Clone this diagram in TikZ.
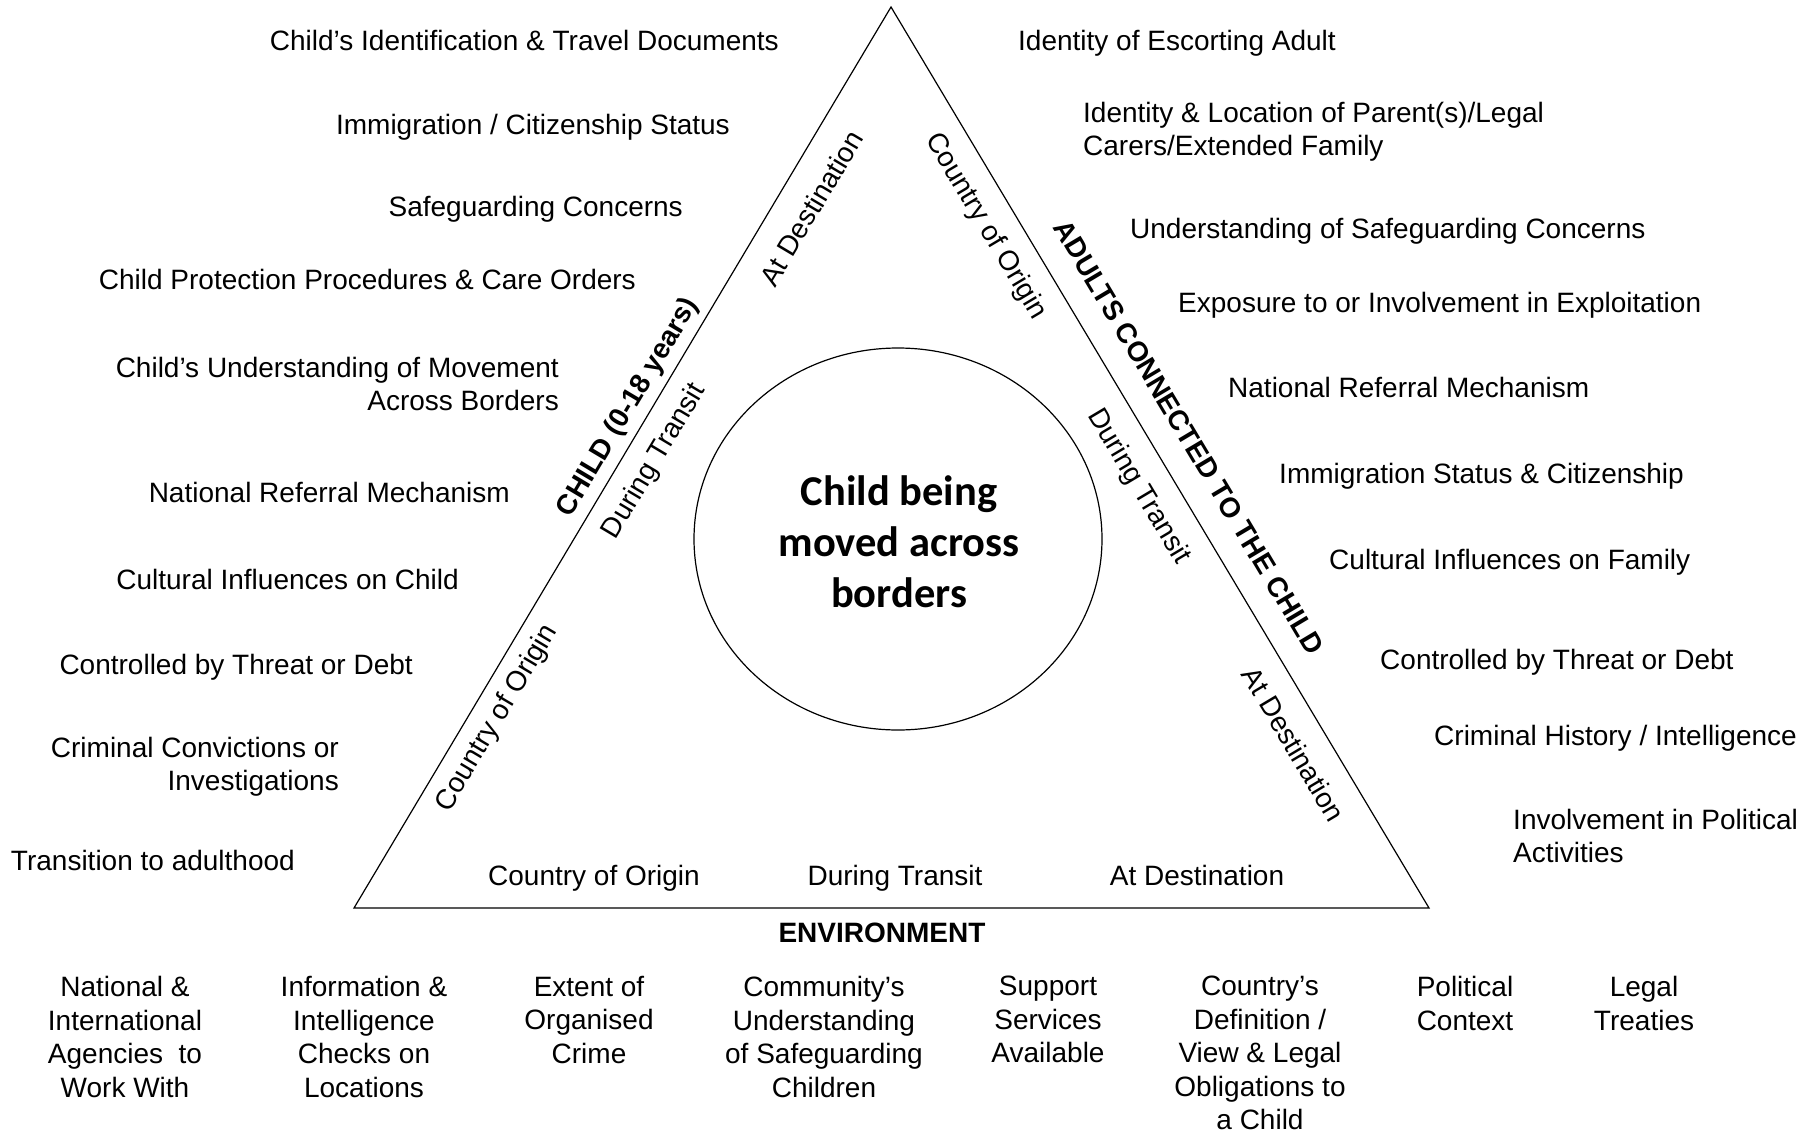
\documentclass[tikz,border=0pt]{standalone}
\usepackage{fontspec}
\setmainfont{Liberation Sans}
\newfontfamily\hubfont{Carlito}
\usetikzlibrary{shapes.geometric}

\tikzset{
  listtxt/.style={inner sep=0pt, text depth=0pt, font=\fontsize{28}{33.5}\selectfont},
  lefttxt/.style={listtxt, anchor=east, align=right},
  righttxt/.style={listtxt, anchor=west, align=left},
  envtxt/.style={listtxt, anchor=north, align=center},
  sidelbl/.style={listtxt},
  headlbl/.style={inner sep=0pt, text depth=0pt, font=\fontsize{28}{33.5}\selectfont\bfseries},
}

\begin{document}
\begin{tikzpicture}[x=1pt, y=-1pt]
            \useasboundingbox (0,0) rectangle (1812,1135);
            %\draw[red] (0,0) rectangle (1812,1135);
            \coordinate (apex) at (891,7);
            \coordinate (bl) at (354,908);
            \coordinate (br) at (1429,908);
            \draw[line width=1.2pt] (apex) -- (bl) -- (br) -- cycle;

            \node[draw, ellipse, line width=1.2pt, minimum width=408pt, minimum height=382pt, inner sep=0pt, align=center,
                  font=\hubfont\bfseries\fontsize{42.5}{51}\selectfont] (hub) at (898,539) {};
            \node[inner sep=0pt, align=center, font=\hubfont\bfseries\fontsize{42.5}{51}\selectfont] (hubtxt) at (899,542) {Child being\\moved across\\borders};

            % along the three sides
            \node[headlbl, rotate=59.2] (childhd) at (626,406) {CHILD (0-18 years)};
            \node[headlbl, rotate=-59.2] (adulthd) at (1189,437) {ADULTS CONNECTED TO THE CHILD};
            \node[headlbl] (envhd) at (882,933) {ENVIRONMENT};

            \node[sidelbl, rotate=59.2] (cdest) at (811,208) {At Destination};
            \node[sidelbl, rotate=59.2] (ctransit) at (652,460) {During Transit};
            \node[sidelbl, rotate=59.2] (corigin) at (495,717) {Country of Origin};
            \node[sidelbl, rotate=-59.2] (aorigin) at (988,225) {Country of Origin};
            \node[sidelbl, rotate=-59.2] (atransit) at (1141,485) {During Transit};
            \node[sidelbl, rotate=-59.2] (adest) at (1294,744) {At Destination};
            \node[sidelbl] (eorigin) at (594,875) {Country of Origin};
            \node[sidelbl] (etransit) at (895,875) {During Transit};
            \node[sidelbl] (edest) at (1197,875) {At Destination};

            % child
            \node[lefttxt] (c1) at (779,40) {Child’s Identification \& Travel Documents};
            \node[lefttxt] (c2) at (730,124) {Immigration / Citizenship Status};
            \node[lefttxt] (c3) at (683,206) {Safeguarding Concerns};
            \node[lefttxt] (c4) at (636,279) {Child Protection Procedures \& Care Orders};
            \node[lefttxt] (c5) at (559,384) {Child’s Understanding of Movement\\Across Borders};
            \node[lefttxt] (c6) at (510,492) {National Referral Mechanism};
            \node[lefttxt] (c7) at (459,579) {Cultural Influences on Child};
            \node[lefttxt] (c8) at (413,664) {Controlled by Threat or Debt};
            \node[lefttxt] (c9) at (339,764) {Criminal Convictions or\\Investigations};
            \node[lefttxt] (c10) at (295,860) {Transition to adulthood};

            % adults
            \node[righttxt] (a1) at (1018,40) {Identity of Escorting Adult};
            \node[righttxt] (a2) at (1083,129) {Identity \& Location of Parent(s)/Legal\\Carers/Extended Family};
            \node[righttxt] (a3) at (1130,228) {Understanding of Safeguarding Concerns};
            \node[righttxt] (a4) at (1178,302) {Exposure to or Involvement in Exploitation};
            \node[righttxt] (a5) at (1228,387) {National Referral Mechanism};
            \node[righttxt] (a6) at (1279,473) {Immigration Status \& Citizenship};
            \node[righttxt] (a7) at (1329,559) {Cultural Influences on Family};
            \node[righttxt] (a8) at (1380,659) {Controlled by Threat or Debt};
            \node[righttxt] (a9) at (1434,735) {Criminal History / Intelligence};
            \node[righttxt] (a10) at (1513,836) {Involvement in Political\\Activities};

            % environment
            \node[envtxt] (e1) at (125,976) {National \&\\International\\Agencies\ \ to\\Work With};
            \node[envtxt] (e2) at (364,976) {Information \&\\Intelligence\\Checks on\\Locations};
            \node[envtxt] (e3) at (589,976) {Extent of\\Organised\\Crime};
            \node[envtxt] (e4) at (824,976) {Community’s\\Understanding\\of Safeguarding\\Children};
            \node[envtxt] (e5) at (1048,976) {Support\\Services\\Available};
            \node[envtxt] (e6) at (1260,976) {Country’s\\Definition /\\View \& Legal\\Obligations to\\a Child};
            \node[envtxt] (e7) at (1465,976) {Political\\Context};
            \node[envtxt] (e8) at (1644,976) {Legal\\Treaties};
\end{tikzpicture}
\end{document}
